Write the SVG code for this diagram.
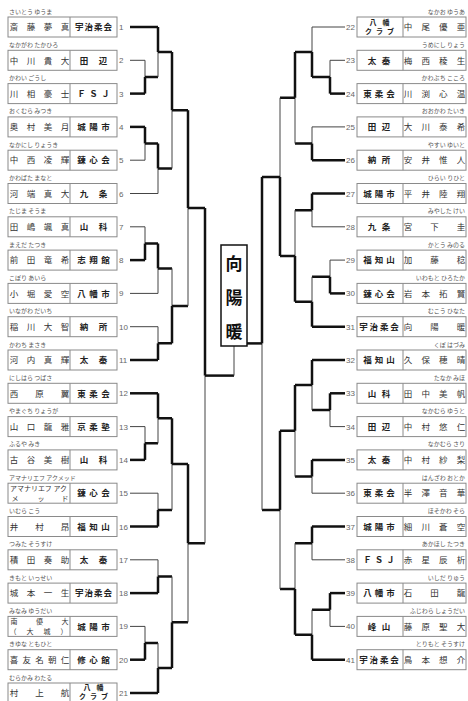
<svg xmlns="http://www.w3.org/2000/svg" width="468" height="701" viewBox="0 0 468 701">
<style>
.bx{fill:#fff;stroke:#8a8a8a;stroke-width:1}
.dv{stroke:#8a8a8a;stroke-width:1}
text{font-family:"Noto Sans CJK JP","Noto Sans CJK SC",sans-serif}
.nm{font-size:8.5px;fill:#333;text-anchor:middle}
.nm2{font-size:7px;fill:#333;text-anchor:middle}
.tm{font-size:8.5px;font-weight:bold;fill:#222;text-anchor:middle}
.tm2{font-size:7px;font-weight:bold;fill:#222;text-anchor:middle}
.fu{font-size:6px;fill:#555}
.fr{font-size:6px;fill:#555;text-anchor:end}
.no{font-family:"Liberation Sans",sans-serif;font-size:8px;fill:#666}
.nr{font-family:"Liberation Sans",sans-serif;font-size:8px;fill:#666;text-anchor:end}
.tk{stroke:#111;stroke-width:2.5;fill:none}
.tn{stroke:#444;stroke-width:1;fill:none}
.ctr{font-size:17px;font-weight:bold;fill:#111;text-anchor:middle}
</style>
<rect width="468" height="701" fill="#fff"/>

<g id="connectors">
<!-- left entries -->
<path class="tk" d="M130 27H158"/>
<path class="tn" d="M130 60.3H145"/>
<path class="tk" d="M130 93.6H145"/>
<path class="tk" d="M130 126.9H145"/>
<path class="tn" d="M130 160.2H145"/>
<path class="tn" d="M130 193.5H158"/>
<path class="tn" d="M130 226.8H145"/>
<path class="tk" d="M130 260.1H145"/>
<path class="tn" d="M130 293.4H158"/>
<path class="tn" d="M130 326.7H158"/>
<path class="tk" d="M130 360H158"/>
<path class="tk" d="M130 393.3H158"/>
<path class="tn" d="M130 426.6H145"/>
<path class="tk" d="M130 459.9H145"/>
<path class="tn" d="M130 493.2H158"/>
<path class="tk" d="M130 526.5H158"/>
<path class="tn" d="M130 559.8H158"/>
<path class="tk" d="M130 593.1H158"/>
<path class="tn" d="M130 626.4H145"/>
<path class="tk" d="M130 659.7H145"/>
<path class="tk" d="M130 693H158"/>
<!-- left R1 -->
<path class="tn" d="M145 60.3V77"/><path class="tk" d="M145 77V93.6"/>
<path class="tk" d="M145 126.9V143.5"/><path class="tn" d="M145 143.5V160.2"/>
<path class="tn" d="M145 226.8V243.5"/><path class="tk" d="M145 243.5V260.1"/>
<path class="tn" d="M145 426.6V443.3"/><path class="tk" d="M145 443.3V459.9"/>
<path class="tn" d="M145 626.4V643"/><path class="tk" d="M145 643V659.7"/>
<path class="tk" d="M145 77H158M145 143.5H158M145 243.5H158M145 443.3H158M145 643H158"/>
<!-- left R2 -->
<path class="tk" d="M158 27V52"/><path class="tn" d="M158 52V77"/>
<path class="tk" d="M158 143.5V168.5"/><path class="tn" d="M158 168.5V193.5"/>
<path class="tk" d="M158 243.5V268.4"/><path class="tn" d="M158 268.4V293.4"/>
<path class="tn" d="M158 326.7V343.3"/><path class="tk" d="M158 343.3V360"/>
<path class="tk" d="M158 393.3V418.3"/><path class="tn" d="M158 418.3V443.3"/>
<path class="tn" d="M158 493.2V509.9"/><path class="tk" d="M158 509.9V526.5"/>
<path class="tn" d="M158 559.8V576.5"/><path class="tk" d="M158 576.5V593.1"/>
<path class="tn" d="M158 643V668"/><path class="tk" d="M158 668V693"/>
<path class="tk" d="M158 52H172M158 168.5H172M158 268.4H172M158 343.3H172M158 418.3H172M158 509.9H172M158 576.5H172M158 668H172"/>
<!-- left R3 -->
<path class="tk" d="M172 52V110.2"/><path class="tn" d="M172 110.2V168.5"/>
<path class="tn" d="M172 268.4V305.9"/><path class="tk" d="M172 305.9V343.3"/>
<path class="tk" d="M172 418.3V464.1"/><path class="tn" d="M172 464.1V509.9"/>
<path class="tn" d="M172 576.5V622.3"/><path class="tk" d="M172 622.3V668"/>
<path class="tk" d="M172 110.2H188M172 305.9H188M172 464.1H188M172 622.3H188"/>
<!-- left R4 -->
<path class="tk" d="M188 110.2V208"/><path class="tn" d="M188 208V305.9"/>
<path class="tk" d="M188 464.1V543.2"/><path class="tn" d="M188 543.2V622.3"/>
<path class="tk" d="M188 208H205M188 543.2H205"/>
<!-- left R5 -->
<path class="tk" d="M205 208V375.6"/><path class="tn" d="M205 375.6V543.2"/>
<path class="tk" d="M205 375.6H234"/><path class="tn" d="M234 375.6V346"/>

<!-- right entries -->
<path class="tn" d="M345 27H312"/>
<path class="tn" d="M345 60.3H330"/>
<path class="tk" d="M345 93.6H330"/>
<path class="tn" d="M345 126.9H312"/>
<path class="tk" d="M345 160.2H312"/>
<path class="tk" d="M345 193.5H312"/>
<path class="tn" d="M345 226.8H312"/>
<path class="tn" d="M345 260.1H330"/>
<path class="tk" d="M345 293.4H330"/>
<path class="tk" d="M345 326.7H312"/>
<path class="tk" d="M345 360H312"/>
<path class="tk" d="M345 393.3H330"/>
<path class="tn" d="M345 426.6H330"/>
<path class="tk" d="M345 459.9H312"/>
<path class="tn" d="M345 493.2H312"/>
<path class="tk" d="M345 526.5H312"/>
<path class="tn" d="M345 559.8H312"/>
<path class="tk" d="M345 593.1H330"/>
<path class="tn" d="M345 626.4H330"/>
<path class="tk" d="M345 659.7H312"/>
<!-- right R1 -->
<path class="tn" d="M330 60.3V77"/><path class="tk" d="M330 77V93.6"/>
<path class="tn" d="M330 260.1V276.8"/><path class="tk" d="M330 276.8V293.4"/>
<path class="tk" d="M330 393.3V410"/><path class="tn" d="M330 410V426.6"/>
<path class="tk" d="M330 593.1V609.8"/><path class="tn" d="M330 609.8V626.4"/>
<path class="tk" d="M330 77H312M330 276.8H312M330 410H312M330 609.8H312"/>
<!-- right R2 -->
<path class="tn" d="M312 27V52"/><path class="tk" d="M312 52V77"/>
<path class="tn" d="M312 126.9V143.5"/><path class="tk" d="M312 143.5V160.2"/>
<path class="tk" d="M312 193.5V210.2"/><path class="tn" d="M312 210.2V226.8"/>
<path class="tn" d="M312 276.8V301.7"/><path class="tk" d="M312 301.7V326.7"/>
<path class="tk" d="M312 360V385"/><path class="tn" d="M312 385V410"/>
<path class="tk" d="M312 459.9V476.6"/><path class="tn" d="M312 476.6V493.2"/>
<path class="tk" d="M312 526.5V543.2"/><path class="tn" d="M312 543.2V559.8"/>
<path class="tn" d="M312 609.8V634.7"/><path class="tk" d="M312 634.7V659.7"/>
<path class="tk" d="M312 52H295M312 143.5H295M312 210.2H295M312 301.7H295M312 385H295M312 476.6H295M312 543.2H295M312 634.7H295"/>
<!-- right R3 -->
<path class="tk" d="M295 52V97.8"/><path class="tn" d="M295 97.8V143.5"/>
<path class="tn" d="M295 210.2V256"/><path class="tk" d="M295 256V301.7"/>
<path class="tk" d="M295 385V430.8"/><path class="tn" d="M295 430.8V476.6"/>
<path class="tn" d="M295 543.2V589"/><path class="tk" d="M295 589V634.7"/>
<path class="tk" d="M295 97.8H280M295 256H280M295 430.8H280M295 589H280"/>
<!-- right R4 -->
<path class="tn" d="M280 97.8V176.9"/><path class="tk" d="M280 176.9V256"/>
<path class="tk" d="M280 430.8V509.9"/><path class="tn" d="M280 509.9V589"/>
<path class="tk" d="M280 176.9H262M280 509.9H262"/>
<!-- right R5 -->
<path class="tk" d="M262 176.9V343.4"/><path class="tn" d="M262 343.4V509.9"/>
<path class="tk" d="M262 343.4H247"/>
</g>

<g id="champion">
<rect x="221" y="245" width="26" height="101" fill="#fff" stroke="#111" stroke-width="1.5"/>
<text class="ctr" x="234" y="270">向</text>
<text class="ctr" x="234" y="304">陽</text>
<text class="ctr" x="234" y="338">暖</text>
</g>

<!-- LEFT NODES -->
<g id="n1"><text class="fu" x="9" y="13.5">さいとう ゆうま</text><rect class="bx" x="8" y="17" width="109" height="20"/><line class="dv" x1="70" y1="17" x2="70" y2="37"/><text class="nm" x="14 31 48 65" y="30.2">斎藤夢真</text><text class="tm" x="79.25 88.75 98.25 107.75" y="30.2">宇治柔会</text><text class="no" x="119" y="30">1</text></g>
<g id="n2"><text class="fu" x="9" y="46.8">なかがわ たかひろ</text><rect class="bx" x="8" y="50.3" width="109" height="20"/><line class="dv" x1="70" y1="50.3" x2="70" y2="70.3"/><text class="nm" x="14 31 48 65" y="63.5">中川貴大</text><text class="tm" x="84 103" y="63.5">田辺</text><text class="no" x="119" y="63.3">2</text></g>
<g id="n3"><text class="fu" x="9" y="80.1">かわい ごうし</text><rect class="bx" x="8" y="83.6" width="109" height="20"/><line class="dv" x1="70" y1="83.6" x2="70" y2="103.6"/><text class="nm" x="14 31 48 65" y="96.8">川相豪士</text><text class="tm" x="81.5 93.5 105.5" y="96.8">ＦＳＪ</text><text class="no" x="119" y="96.6">3</text></g>
<g id="n4"><text class="fu" x="9" y="113.4">おくむら みつき</text><rect class="bx" x="8" y="116.9" width="109" height="20"/><line class="dv" x1="70" y1="116.9" x2="70" y2="136.9"/><text class="nm" x="14 31 48 65" y="130.1">奥村美月</text><text class="tm" x="81.5 93.5 105.5" y="130.1">城陽市</text><text class="no" x="119" y="129.9">4</text></g>
<g id="n5"><text class="fu" x="9" y="146.7">なかにし りょうき</text><rect class="bx" x="8" y="150.2" width="109" height="20"/><line class="dv" x1="70" y1="150.2" x2="70" y2="170.2"/><text class="nm" x="14 31 48 65" y="163.4">中西凌輝</text><text class="tm" x="81.5 93.5 105.5" y="163.4">錬心会</text><text class="no" x="119" y="163.2">5</text></g>
<g id="n6"><text class="fu" x="9" y="180">かわばた まなと</text><rect class="bx" x="8" y="183.5" width="109" height="20"/><line class="dv" x1="70" y1="183.5" x2="70" y2="203.5"/><text class="nm" x="14 31 48 65" y="196.7">河端真大</text><text class="tm" x="84 103" y="196.7">九条</text><text class="no" x="119" y="196.5">6</text></g>
<g id="n7"><text class="fu" x="9" y="213.3">たじま そうま</text><rect class="bx" x="8" y="216.8" width="109" height="20"/><line class="dv" x1="70" y1="216.8" x2="70" y2="236.8"/><text class="nm" x="14 31 48 65" y="230">田嶋颯真</text><text class="tm" x="84 103" y="230">山科</text><text class="no" x="119" y="229.8">7</text></g>
<g id="n8"><text class="fu" x="9" y="246.6">まえだ たつき</text><rect class="bx" x="8" y="250.1" width="109" height="20"/><line class="dv" x1="70" y1="250.1" x2="70" y2="270.1"/><text class="nm" x="14 31 48 65" y="263.3">前田竜希</text><text class="tm" x="81.5 93.5 105.5" y="263.3">志翔館</text><text class="no" x="119" y="263.1">8</text></g>
<g id="n9"><text class="fu" x="9" y="279.9">こぼり あいら</text><rect class="bx" x="8" y="283.4" width="109" height="20"/><line class="dv" x1="70" y1="283.4" x2="70" y2="303.4"/><text class="nm" x="14 31 48 65" y="296.6">小堀愛空</text><text class="tm" x="81.5 93.5 105.5" y="296.6">八幡市</text><text class="no" x="119" y="296.4">9</text></g>
<g id="n10"><text class="fu" x="9" y="313.2">いながわ だいち</text><rect class="bx" x="8" y="316.7" width="109" height="20"/><line class="dv" x1="70" y1="316.7" x2="70" y2="336.7"/><text class="nm" x="14 31 48 65" y="329.9">稲川大智</text><text class="tm" x="84 103" y="329.9">納所</text><text class="no" x="119" y="329.7">10</text></g>
<g id="n11"><text class="fu" x="9" y="346.5">かわち まさき</text><rect class="bx" x="8" y="350" width="109" height="20"/><line class="dv" x1="70" y1="350" x2="70" y2="370"/><text class="nm" x="14 31 48 65" y="363.2">河内真輝</text><text class="tm" x="84 103" y="363.2">太秦</text><text class="no" x="119" y="363">11</text></g>
<g id="n12"><text class="fu" x="9" y="379.8">にしはら つばさ</text><rect class="bx" x="8" y="383.3" width="109" height="20"/><line class="dv" x1="70" y1="383.3" x2="70" y2="403.3"/><text class="nm" x="14 39.5 65" y="396.5">西原翼</text><text class="tm" x="81.5 93.5 105.5" y="396.5">東柔会</text><text class="no" x="119" y="396.3">12</text></g>
<g id="n13"><text class="fu" x="9" y="413.1">やまぐち りょうが</text><rect class="bx" x="8" y="416.6" width="109" height="20"/><line class="dv" x1="70" y1="416.6" x2="70" y2="436.6"/><text class="nm" x="14 31 48 65" y="429.8">山口龍雅</text><text class="tm" x="81.5 93.5 105.5" y="429.8">京柔塾</text><text class="no" x="119" y="429.6">13</text></g>
<g id="n14"><text class="fu" x="9" y="446.4">ふるや みき</text><rect class="bx" x="8" y="449.9" width="109" height="20"/><line class="dv" x1="70" y1="449.9" x2="70" y2="469.9"/><text class="nm" x="14 31 48 65" y="463.1">古谷美樹</text><text class="tm" x="84 103" y="463.1">山科</text><text class="no" x="119" y="462.9">14</text></g>
<g id="n15"><text class="fu" x="9" y="479.7">アマナリエフ アクメッド</text><rect class="bx" x="8" y="483.2" width="109" height="20"/><line class="dv" x1="70" y1="483.2" x2="70" y2="503.2"/><text class="nm2" x="10" y="491" style="text-anchor:start" textLength="57" lengthAdjust="spacingAndGlyphs">アマナリエフ アク</text><text class="nm2" x="15 41 65" y="500.6">メッド</text><text class="tm" x="81.5 93.5 105.5" y="496.4">錬心会</text><text class="no" x="119" y="496.2">15</text></g>
<g id="n16"><text class="fu" x="9" y="513">いむら こう</text><rect class="bx" x="8" y="516.5" width="109" height="20"/><line class="dv" x1="70" y1="516.5" x2="70" y2="536.5"/><text class="nm" x="14 39.5 65" y="529.7">井村昂</text><text class="tm" x="81.5 93.5 105.5" y="529.7">福知山</text><text class="no" x="119" y="529.5">16</text></g>
<g id="n17"><text class="fu" x="9" y="546.3">つみた そうすけ</text><rect class="bx" x="8" y="549.8" width="109" height="20"/><line class="dv" x1="70" y1="549.8" x2="70" y2="569.8"/><text class="nm" x="14 31 48 65" y="563">積田奏助</text><text class="tm" x="84 103" y="563">太秦</text><text class="no" x="119" y="562.8">17</text></g>
<g id="n18"><text class="fu" x="9" y="579.6">きもと いっせい</text><rect class="bx" x="8" y="583.1" width="109" height="20"/><line class="dv" x1="70" y1="583.1" x2="70" y2="603.1"/><text class="nm" x="14 31 48 65" y="596.3">城本一生</text><text class="tm" x="79.25 88.75 98.25 107.75" y="596.3">宇治柔会</text><text class="no" x="119" y="596.1">18</text></g>
<g id="n19"><text class="fu" x="9" y="612.9">みなみ ゆうだい</text><rect class="bx" x="8" y="616.4" width="109" height="20"/><line class="dv" x1="70" y1="616.4" x2="70" y2="636.4"/><text class="nm2" x="14 39.5 65" y="624.3">南優大</text><text class="nm2" x="13 30 47 64" y="634">（大城）</text><text class="tm" x="81.5 93.5 105.5" y="629.6">城陽市</text><text class="no" x="119" y="629.4">19</text></g>
<g id="n20"><text class="fu" x="9" y="646.2">きゆな ともひと</text><rect class="bx" x="8" y="649.7" width="109" height="20"/><line class="dv" x1="70" y1="649.7" x2="70" y2="669.7"/><text class="nm" x="14 26.75 39.5 52.25 65" y="662.9">喜友名朝仁</text><text class="tm" x="81.5 93.5 105.5" y="662.9">修心館</text><text class="no" x="119" y="662.7">20</text></g>
<g id="n21"><text class="fu" x="9" y="679.5">むらかみ わたる</text><rect class="bx" x="8" y="683" width="109" height="20"/><line class="dv" x1="70" y1="683" x2="70" y2="703"/><text class="nm" x="14 39.5 65" y="696.2">村上航</text><text class="tm2" x="87 100" y="690.3">八幡</text><text class="tm2" x="82.5 93.5 104.5" y="699.3">クラブ</text><text class="no" x="119" y="696">21</text></g>

<!-- RIGHT NODES -->
<g id="n22"><text class="fr" x="465" y="13.5">なかお ゆうあ</text><rect class="bx" x="357" y="17" width="109" height="20"/><line class="dv" x1="403" y1="17" x2="403" y2="37"/><text class="tm2" x="373 386" y="25">八幡</text><text class="tm2" x="368.5 379.5 390.5" y="34.3">クラブ</text><text class="nm" x="408 425.7 443.3 461" y="30.2">中尾優亜</text><text class="nr" x="355" y="30">22</text></g>
<g id="n23"><text class="fr" x="465" y="46.8">うめにし りょう</text><rect class="bx" x="357" y="50.3" width="109" height="20"/><line class="dv" x1="403" y1="50.3" x2="403" y2="70.3"/><text class="tm" x="372 386" y="63.5">太秦</text><text class="nm" x="408 425.7 443.3 461" y="63.5">梅西稜生</text><text class="nr" x="355" y="63.3">23</text></g>
<g id="n24"><text class="fr" x="465" y="80.1">かわぶち こころ</text><rect class="bx" x="357" y="83.6" width="109" height="20"/><line class="dv" x1="403" y1="83.6" x2="403" y2="103.6"/><text class="tm" x="367.5 379 390.5" y="96.8">東柔会</text><text class="nm" x="408 425.7 443.3 461" y="96.8">川渕心温</text><text class="nr" x="355" y="96.6">24</text></g>
<g id="n25"><text class="fr" x="465" y="113.4">おおかわ たいき</text><rect class="bx" x="357" y="116.9" width="109" height="20"/><line class="dv" x1="403" y1="116.9" x2="403" y2="136.9"/><text class="tm" x="372 386" y="130.1">田辺</text><text class="nm" x="408 425.7 443.3 461" y="130.1">大川泰希</text><text class="nr" x="355" y="129.9">25</text></g>
<g id="n26"><text class="fr" x="465" y="146.7">やすい ゆいと</text><rect class="bx" x="357" y="150.2" width="109" height="20"/><line class="dv" x1="403" y1="150.2" x2="403" y2="170.2"/><text class="tm" x="372 386" y="163.4">納所</text><text class="nm" x="408 425.7 443.3 461" y="163.4">安井惟人</text><text class="nr" x="355" y="163.2">26</text></g>
<g id="n27"><text class="fr" x="465" y="180">ひらい りひと</text><rect class="bx" x="357" y="183.5" width="109" height="20"/><line class="dv" x1="403" y1="183.5" x2="403" y2="203.5"/><text class="tm" x="367.5 379 390.5" y="196.7">城陽市</text><text class="nm" x="408 425.7 443.3 461" y="196.7">平井陸翔</text><text class="nr" x="355" y="196.5">27</text></g>
<g id="n28"><text class="fr" x="465" y="213.3">みやした けい</text><rect class="bx" x="357" y="216.8" width="109" height="20"/><line class="dv" x1="403" y1="216.8" x2="403" y2="236.8"/><text class="tm" x="372 386" y="230">九条</text><text class="nm" x="408 434.5 461" y="230">宮下圭</text><text class="nr" x="355" y="229.8">28</text></g>
<g id="n29"><text class="fr" x="465" y="246.6">かとう みのる</text><rect class="bx" x="357" y="250.1" width="109" height="20"/><line class="dv" x1="403" y1="250.1" x2="403" y2="270.1"/><text class="tm" x="367.5 379 390.5" y="263.3">福知山</text><text class="nm" x="408 434.5 461" y="263.3">加藤稔</text><text class="nr" x="355" y="263.1">29</text></g>
<g id="n30"><text class="fr" x="465" y="279.9">いわもと ひろたか</text><rect class="bx" x="357" y="283.4" width="109" height="20"/><line class="dv" x1="403" y1="283.4" x2="403" y2="303.4"/><text class="tm" x="367.5 379 390.5" y="296.6">錬心会</text><text class="nm" x="408 425.7 443.3 461" y="296.6">岩本拓賢</text><text class="nr" x="355" y="296.4">30</text></g>
<g id="n31"><text class="fr" x="465" y="313.2">むこう ひなた</text><rect class="bx" x="357" y="316.7" width="109" height="20"/><line class="dv" x1="403" y1="316.7" x2="403" y2="336.7"/><text class="tm" x="363.5 373.8 384.2 394.5" y="329.9">宇治柔会</text><text class="nm" x="408 434.5 461" y="329.9">向陽暖</text><text class="nr" x="355" y="329.7">31</text></g>
<g id="n32"><text class="fr" x="465" y="346.5">くぼ はづみ</text><rect class="bx" x="357" y="350" width="109" height="20"/><line class="dv" x1="403" y1="350" x2="403" y2="370"/><text class="tm" x="367.5 379 390.5" y="363.2">福知山</text><text class="nm" x="408 425.7 443.3 461" y="363.2">久保穂晴</text><text class="nr" x="355" y="363">32</text></g>
<g id="n33"><text class="fr" x="465" y="379.8">たなか みほ</text><rect class="bx" x="357" y="383.3" width="109" height="20"/><line class="dv" x1="403" y1="383.3" x2="403" y2="403.3"/><text class="tm" x="372 386" y="396.5">山科</text><text class="nm" x="408 425.7 443.3 461" y="396.5">田中美帆</text><text class="nr" x="355" y="396.3">33</text></g>
<g id="n34"><text class="fr" x="465" y="413.1">なかむら ゆうと</text><rect class="bx" x="357" y="416.6" width="109" height="20"/><line class="dv" x1="403" y1="416.6" x2="403" y2="436.6"/><text class="tm" x="372 386" y="429.8">田辺</text><text class="nm" x="408 425.7 443.3 461" y="429.8">中村悠仁</text><text class="nr" x="355" y="429.6">34</text></g>
<g id="n35"><text class="fr" x="465" y="446.4">なかむら さり</text><rect class="bx" x="357" y="449.9" width="109" height="20"/><line class="dv" x1="403" y1="449.9" x2="403" y2="469.9"/><text class="tm" x="372 386" y="463.1">太秦</text><text class="nm" x="408 425.7 443.3 461" y="463.1">中村紗梨</text><text class="nr" x="355" y="462.9">35</text></g>
<g id="n36"><text class="fr" x="465" y="479.7">はんざわ おとか</text><rect class="bx" x="357" y="483.2" width="109" height="20"/><line class="dv" x1="403" y1="483.2" x2="403" y2="503.2"/><text class="tm" x="367.5 379 390.5" y="496.4">東柔会</text><text class="nm" x="408 425.7 443.3 461" y="496.4">半澤音華</text><text class="nr" x="355" y="496.2">36</text></g>
<g id="n37"><text class="fr" x="465" y="513">ほそかわ そら</text><rect class="bx" x="357" y="516.5" width="109" height="20"/><line class="dv" x1="403" y1="516.5" x2="403" y2="536.5"/><text class="tm" x="367.5 379 390.5" y="529.7">城陽市</text><text class="nm" x="408 425.7 443.3 461" y="529.7">細川蒼空</text><text class="nr" x="355" y="529.5">37</text></g>
<g id="n38"><text class="fr" x="465" y="546.3">あかほし たつき</text><rect class="bx" x="357" y="549.8" width="109" height="20"/><line class="dv" x1="403" y1="549.8" x2="403" y2="569.8"/><text class="tm" x="367.5 379 390.5" y="563">ＦＳＪ</text><text class="nm" x="408 425.7 443.3 461" y="563">赤星辰析</text><text class="nr" x="355" y="562.8">38</text></g>
<g id="n39"><text class="fr" x="465" y="579.6">いしだ りゅう</text><rect class="bx" x="357" y="583.1" width="109" height="20"/><line class="dv" x1="403" y1="583.1" x2="403" y2="603.1"/><text class="tm" x="367.5 379 390.5" y="596.3">八幡市</text><text class="nm" x="408 434.5 461" y="596.3">石田龍</text><text class="nr" x="355" y="596.1">39</text></g>
<g id="n40"><text class="fr" x="465" y="612.9">ふじわら しょうだい</text><rect class="bx" x="357" y="616.4" width="109" height="20"/><line class="dv" x1="403" y1="616.4" x2="403" y2="636.4"/><text class="tm" x="372 386" y="629.6">峰山</text><text class="nm" x="408 425.7 443.3 461" y="629.6">藤原聖大</text><text class="nr" x="355" y="629.4">40</text></g>
<g id="n41"><text class="fr" x="465" y="646.2">とりもと そうすけ</text><rect class="bx" x="357" y="649.7" width="109" height="20"/><line class="dv" x1="403" y1="649.7" x2="403" y2="669.7"/><text class="tm" x="363.5 373.8 384.2 394.5" y="662.9">宇治柔会</text><text class="nm" x="408 425.7 443.3 461" y="662.9">鳥本想介</text><text class="nr" x="355" y="662.7">41</text></g>
</svg>
